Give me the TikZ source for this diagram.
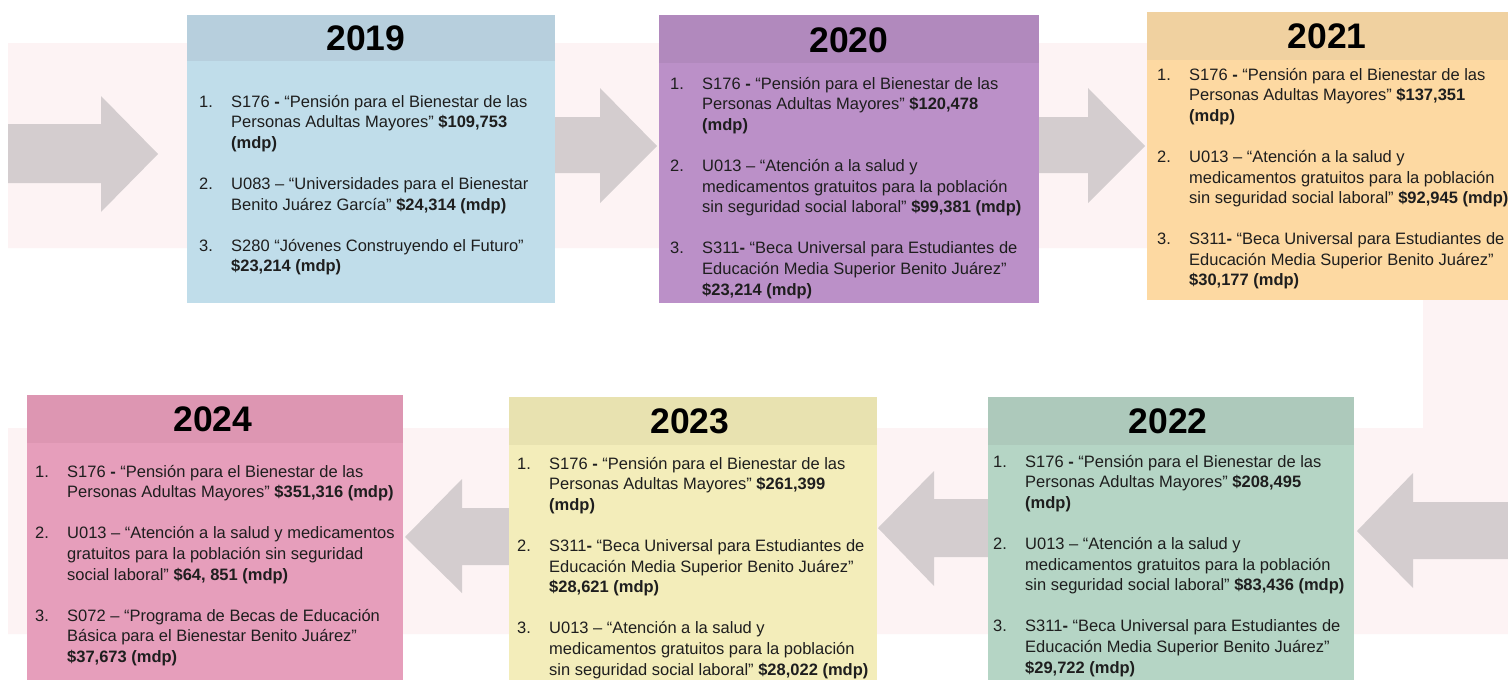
\documentclass[tikz,border=0pt]{standalone}
\usepackage{fontspec}
\setmainfont{Liberation Sans}
\usepackage{array}
\definecolor{bandc}{HTML}{FDF3F4}
\definecolor{arrowc}{HTML}{D4CDCF}
\definecolor{txt}{HTML}{1E1E1E}
\definecolor{hA}{HTML}{B7CFDD}\definecolor{bA}{HTML}{C0DDEA}
\definecolor{hB}{HTML}{B189BD}\definecolor{bB}{HTML}{BB90C8}
\definecolor{hC}{HTML}{F0D1A0}\definecolor{bC}{HTML}{FDD9A2}
\definecolor{hD}{HTML}{ADC9BB}\definecolor{bD}{HTML}{B5D5C5}
\definecolor{hE}{HTML}{E8E2B0}\definecolor{bE}{HTML}{F3EDBA}
\definecolor{hF}{HTML}{DD96B2}\definecolor{bF}{HTML}{E69EBB}
\newcommand\mylist[1]{\begin{tabular}[t]{@{}p{32pt}@{}l@{}}#1\end{tabular}}
\newcommand\gapp{\\[20.6pt]}
\begin{document}
\begin{tikzpicture}[x=1pt,y=-1pt,
  yeartitle/.style={font=\fontsize{35.5}{40}\selectfont\bfseries, inner sep=0pt, text=black, anchor=center},
  bodytext/.style={anchor=base west, inner sep=0pt, font=\fontsize{16.5}{20.6}\selectfont, text=txt},
  blockarrow/.style={fill=arrowc}]
\useasboundingbox (0,0) rectangle (1508,680);
\fill[white] (0,0) rectangle (1508,680);
% background band
\fill[bandc] (8,43) -- (1508,43) -- (1508,634) -- (8,634) -- (8,428) -- (1423,428) -- (1423,248) -- (8,248) -- cycle;
% block arrows
\fill[blockarrow] (8,124) -- (101,124) -- (101,96) -- (158,154) -- (101,212) -- (101,183) -- (8,183) -- cycle;
\fill[blockarrow] (550,117) -- (600,117) -- (600,88) -- (657,146) -- (600,203) -- (600,173) -- (550,173) -- cycle;
\fill[blockarrow] (1035,117) -- (1088,117) -- (1088,88) -- (1145,146) -- (1088,203) -- (1088,173) -- (1035,173) -- cycle;
\fill[blockarrow] (1508,502) -- (1413,502) -- (1413,473) -- (1357,531) -- (1413,588) -- (1413,559) -- (1508,559) -- cycle;
\fill[blockarrow] (992,499) -- (934,499) -- (934,471) -- (878,528) -- (934,586) -- (934,557) -- (992,557) -- cycle;
\fill[blockarrow] (512,508) -- (462,508) -- (462,479) -- (405,537) -- (462,593) -- (462,565) -- (512,565) -- cycle;
% boxes
\fill[bA] (187,15) rectangle (555,303); \fill[hA] (187,15) rectangle (555,61);
\fill[bB] (659,15) rectangle (1039,303); \fill[hB] (659,15) rectangle (1039,63);
\fill[bC] (1147,12) rectangle (1508,300); \fill[hC] (1147,12) rectangle (1508,60);
\fill[bF] (27,395) rectangle (403,680); \fill[hF] (27,395) rectangle (403,443);
\fill[bE] (509,397) rectangle (877,680); \fill[hE] (509,397) rectangle (877,445);
\fill[bD] (988,397) rectangle (1354,680); \fill[hD] (988,397) rectangle (1354,445);
% titles
\node[yeartitle] (y19) at (366,38) {2019};
\node[yeartitle] (y20) at (849,40) {2020};
\node[yeartitle] (y21) at (1327,36) {2021};
\node[yeartitle] (y24) at (213,419) {2024};
\node[yeartitle] (y23) at (690,421) {2023};
\node[yeartitle] (y22) at (1168,421) {2022};
% texts
\node[bodytext] (t19) at (199,107) {\mylist{
1. & S176 \textbf{-} “Pensión para el Bienestar de las\\
 & Personas Adultas Mayores” \textbf{\$109,753}\\
 & \textbf{(mdp)}\gapp
2. & U083 – “Universidades para el Bienestar\\
 & Benito Juárez García” \textbf{\$24,314 (mdp)}\gapp
3. & S280 “Jóvenes Construyendo el Futuro”\\
 & \textbf{\$23,214 (mdp)}}};
\node[bodytext] (t20) at (670,89) {\mylist{
1. & S176 \textbf{-} “Pensión para el Bienestar de las\\
 & Personas Adultas Mayores” \textbf{\$120,478}\\
 & \textbf{(mdp)}\gapp
2. & U013 – “Atención a la salud y\\
 & medicamentos gratuitos para la población\\
 & sin seguridad social laboral” \textbf{\$99,381 (mdp)}\gapp
3. & S311\textbf{-} “Beca Universal para Estudiantes de\\
 & Educación Media Superior Benito Juárez”\\
 & \textbf{\$23,214 (mdp)}}};
\node[bodytext] (t21) at (1157,80) {\mylist{
1. & S176 \textbf{-} “Pensión para el Bienestar de las\\
 & Personas Adultas Mayores” \textbf{\$137,351}\\
 & \textbf{(mdp)}\gapp
2. & U013 – “Atención a la salud y\\
 & medicamentos gratuitos para la población\\
 & sin seguridad social laboral” \textbf{\$92,945 (mdp)}\gapp
3. & S311\textbf{-} “Beca Universal para Estudiantes de\\
 & Educación Media Superior Benito Juárez”\\
 & \textbf{\$30,177 (mdp)}}};
\node[bodytext] (t22) at (993,467) {\mylist{
1. & S176 \textbf{-} “Pensión para el Bienestar de las\\
 & Personas Adultas Mayores” \textbf{\$208,495}\\
 & \textbf{(mdp)}\gapp
2. & U013 – “Atención a la salud y\\
 & medicamentos gratuitos para la población\\
 & sin seguridad social laboral” \textbf{\$83,436 (mdp)}\gapp
3. & S311\textbf{-} “Beca Universal para Estudiantes de\\
 & Educación Media Superior Benito Juárez”\\
 & \textbf{\$29,722 (mdp)}}};
\node[bodytext] (t23) at (517,469) {\mylist{
1. & S176 \textbf{-} “Pensión para el Bienestar de las\\
 & Personas Adultas Mayores” \textbf{\$261,399}\\
 & \textbf{(mdp)}\gapp
2. & S311\textbf{-} “Beca Universal para Estudiantes de\\
 & Educación Media Superior Benito Juárez”\\
 & \textbf{\$28,621 (mdp)}\gapp
3. & U013 – “Atención a la salud y\\
 & medicamentos gratuitos para la población\\
 & sin seguridad social laboral” \textbf{\$28,022 (mdp)}}};
\node[bodytext] (t24) at (35,477) {\mylist{
1. & S176 \textbf{-} “Pensión para el Bienestar de las\\
 & Personas Adultas Mayores” \textbf{\$351,316 (mdp)}\gapp
2. & U013 – “Atención a la salud y medicamentos\\
 & gratuitos para la población sin seguridad\\
 & social laboral” \textbf{\$64, 851 (mdp)}\gapp
3. & S072 – “Programa de Becas de Educación\\
 & Básica para el Bienestar Benito Juárez”\\
 & \textbf{\$37,673 (mdp)}}};
\end{tikzpicture}
\end{document}
